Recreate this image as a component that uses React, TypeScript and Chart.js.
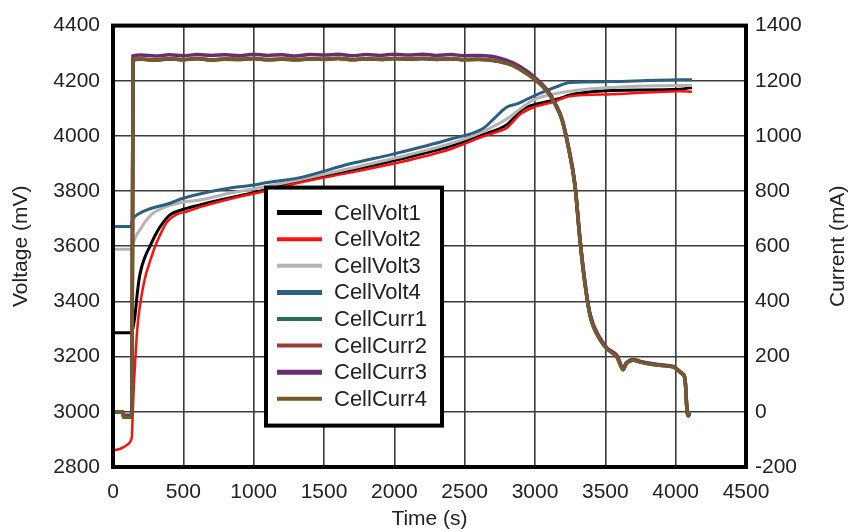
import React, { useEffect, useRef } from "react";
import { Chart, registerables } from "chart.js";

Chart.register(...registerables);

// ---------- Data ----------
const SERIES_NAMES = [
  "CellVolt1",
  "CellVolt2",
  "CellVolt3",
  "CellVolt4",
  "CellCurr1",
  "CellCurr2",
  "CellCurr3",
  "CellCurr4",
];

const volt1Time = [0, 130, 135, 156, 175, 192, 230, 263, 300, 334, 405, 476, 618, 853, 1045, 1329, 1685, 1990, 2396, 2630, 2801, 2870, 2915, 3014, 3156, 3270, 3554, 4031, 4116];
const volt1Vals = [3287, 3287, 3290, 3347, 3440, 3500, 3565, 3600, 3640, 3670, 3714, 3730, 3750, 3778, 3800, 3836, 3875, 3910, 3962, 4005, 4041, 4075, 4098, 4116, 4133, 4151, 4165, 4169, 4176];

const volt2Time = [0, 50, 100, 130, 135, 140, 147, 156, 168, 180, 206, 230, 263, 300, 334, 380, 455, 526, 618, 853, 1045, 1329, 1685, 1990, 2396, 2630, 2737, 2801, 2893, 2986, 3128, 3249, 3554, 4031, 4116];
const volt2Vals = [2860, 2866, 2880, 2900, 2915, 2990, 3080, 3170, 3270, 3340, 3430, 3490, 3545, 3600, 3640, 3685, 3716, 3726, 3742, 3774, 3796, 3831, 3867, 3899, 3952, 3998, 4016, 4030, 4078, 4103, 4123, 4144, 4151, 4162, 4160];

const volt3Time = [0, 130, 135, 150, 171, 192, 230, 263, 300, 384, 498, 618, 853, 1045, 1329, 1685, 1990, 2396, 2630, 2801, 2900, 2986, 3199, 3554, 4031, 4116];
const volt3Vals = [3589, 3589, 3595, 3620, 3645, 3660, 3690, 3710, 3725, 3745, 3760, 3768, 3795, 3812, 3842, 3882, 3918, 3972, 4016, 4062, 4100, 4130, 4158, 4176, 4183, 4183];

const volt4Time = [0, 130, 135, 150, 171, 242, 405, 498, 853, 974, 1095, 1329, 1685, 1990, 2396, 2630, 2701, 2801, 2872, 2943, 3085, 3178, 3249, 3554, 3796, 4031, 4116];
const volt4Vals = [3672, 3672, 3690, 3705, 3714, 3732, 3756, 3774, 3813, 3820, 3831, 3849, 3899, 3934, 3988, 4027, 4059, 4105, 4116, 4133, 4165, 4183, 4194, 4197, 4201, 4204, 4204];

const currTime = [0, 70, 75, 130, 135, 142, 200, 300, 400, 500, 600, 700, 800, 900, 1000, 1100, 1200, 1300, 1400, 1500, 1600, 1700, 1800, 1900, 2000, 2100, 2200, 2300, 2400, 2500, 2600, 2700, 2751, 2844, 2943, 3014, 3085, 3142, 3192, 3235, 3284, 3320, 3355, 3391, 3462, 3512, 3583, 3626, 3650, 3697, 3750, 3817, 3900, 3981, 4045, 4066, 4081, 4090, 4100];
const curr1Vals = [0, 0, -20, -20, 0, 1276, 1278, 1275, 1279, 1277, 1280, 1276, 1278, 1277, 1281, 1277, 1278, 1276, 1279, 1278, 1281, 1277, 1279, 1278, 1280, 1279, 1281, 1278, 1279, 1277, 1277, 1274, 1270, 1256, 1226, 1199, 1164, 1117, 1059, 966, 821, 622, 466, 351, 263, 229, 199, 154, 176, 188, 181, 174, 169, 164, 139, 121, 3, -14, -4];
const curr2Vals = [0, 0, -19, -19, 0, 1277, 1279, 1276, 1280, 1276, 1281, 1275, 1279, 1278, 1280, 1276, 1279, 1277, 1280, 1277, 1281, 1276, 1280, 1277, 1281, 1278, 1280, 1277, 1280, 1276, 1278, 1273, 1269, 1255, 1225, 1198, 1163, 1116, 1058, 964, 820, 621, 465, 350, 262, 228, 198, 153, 175, 187, 180, 173, 168, 163, 138, 120, 2, -15, -5];
const curr3Vals = [0, 0, -12, -12, 0, 1290, 1293, 1290, 1294, 1291, 1295, 1292, 1294, 1291, 1296, 1292, 1294, 1290, 1295, 1293, 1296, 1291, 1295, 1292, 1296, 1293, 1296, 1292, 1295, 1291, 1292, 1288, 1282, 1265, 1235, 1205, 1168, 1120, 1062, 968, 826, 628, 472, 356, 268, 232, 204, 160, 178, 190, 183, 176, 170, 165, 140, 122, 4, -12, -3];
const curr4Vals = [0, 0, -20, -20, 0, 1276, 1279, 1274, 1280, 1276, 1281, 1275, 1279, 1277, 1282, 1276, 1279, 1275, 1280, 1278, 1282, 1276, 1280, 1277, 1281, 1278, 1282, 1277, 1280, 1276, 1278, 1274, 1270, 1255, 1225, 1198, 1163, 1116, 1058, 965, 820, 620, 465, 350, 262, 228, 198, 152, 175, 187, 180, 173, 168, 163, 138, 120, 2, -15, -5];

const X_MIN = 0, X_MAX = 4500, X_STEP = 500;
const V_MIN = 2800, V_MAX = 4400, V_STEP = 200;
const I_MIN = -200, I_MAX = 1400, I_STEP = 200;
const X_TITLE = "Time (s)";
const V_TITLE = "Voltage (mV)";
const I_TITLE = "Current (mA)";

// ---------- Styles ----------
const COLORS = ["#000000", "#ff1010", "#b4b4b4", "#2d5f7e", "#2a6e4a", "#9c3b3b", "#6b2d6f", "#735a2e"];
const LINE_W = [3, 2.5, 3, 3, 3.5, 3.5, 3.5, 3.5];
const LEGEND_W = [5, 4, 4, 5, 4, 4, 5, 4];
const FONT = "'Liberation Sans', Arial, Helvetica, sans-serif";
const TEXT = "#222222";

const toPts = (t: number[], v: number[]) => t.map((x, i) => ({ x, y: v[i] }));
const plainTick = (v: any) => String(v);

const frameLegendPlugin = {
  id: "frameLegend",
  afterDatasetsDraw(chart: any) {
    const { ctx, chartArea: a } = chart;
    ctx.save();
    ctx.strokeStyle = "#000";
    ctx.lineWidth = 4;
    ctx.strokeRect(a.left, a.top, a.right - a.left, a.bottom - a.top);

    // legend box
    const lx = a.left + 153;
    const ly = a.top + 162;
    const lw = 176;
    const lh = 238;
    ctx.fillStyle = "#ffffff";
    ctx.fillRect(lx, ly, lw, lh);
    ctx.strokeRect(lx, ly, lw, lh);
    ctx.font = `22px ${FONT}`;
    ctx.textBaseline = "middle";
    ctx.textAlign = "left";
    SERIES_NAMES.forEach((name, i) => {
      const y = ly + 25 + i * 26.6;
      ctx.beginPath();
      ctx.strokeStyle = COLORS[i];
      ctx.lineWidth = LEGEND_W[i];
      ctx.moveTo(lx + 11, y);
      ctx.lineTo(lx + 56, y);
      ctx.stroke();
      ctx.fillStyle = TEXT;
      ctx.fillText(name, lx + 68, y + 1);
    });

    // right axis title, rotated to read bottom-to-top
    ctx.translate(chart.width - 16, (a.top + a.bottom) / 2);
    ctx.rotate(-Math.PI / 2);
    ctx.textAlign = "center";
    ctx.textBaseline = "middle";
    ctx.font = `21px ${FONT}`;
    ctx.fillStyle = TEXT;
    ctx.fillText(I_TITLE, 0, 0);
    ctx.restore();
  },
};

export default function App() {
  const ref = useRef<HTMLCanvasElement | null>(null);

  useEffect(() => {
    document.body.style.margin = "0";
    const canvas = ref.current;
    if (!canvas) return;
    const volt = [
      toPts(volt1Time, volt1Vals),
      toPts(volt2Time, volt2Vals),
      toPts(volt3Time, volt3Vals),
      toPts(volt4Time, volt4Vals),
    ];
    const curr = [curr1Vals, curr2Vals, curr3Vals, curr4Vals].map((v) => toPts(currTime, v));
    const datasets = SERIES_NAMES.map((name, i) => ({
      label: name,
      data: i < 4 ? volt[i] : curr[i - 4],
      yAxisID: i < 4 ? "yV" : "yI",
      borderColor: COLORS[i],
      backgroundColor: COLORS[i],
      borderWidth: LINE_W[i],
      pointRadius: 0,
      fill: false,
      cubicInterpolationMode: "monotone" as const,
      order: 8 - i,
    }));

    const chart = new Chart(canvas, {
      type: "line",
      data: { datasets },
      plugins: [frameLegendPlugin],
      options: {
        animation: false,
        responsive: false,
        devicePixelRatio: 1,
        layout: { padding: { top: 17, left: 0, right: 0, bottom: 0 } },
        plugins: { legend: { display: false }, tooltip: { enabled: false } },
        scales: {
          x: {
            type: "linear",
            min: X_MIN,
            max: X_MAX,
            afterFit: (s: any) => {
              s.height = 65;
            },
            ticks: { stepSize: X_STEP, padding: 13, color: TEXT, font: { size: 21, family: FONT }, maxRotation: 0, callback: plainTick },
            grid: { color: "#3c3c3c", lineWidth: 1.6, drawTicks: false },
            border: { display: false },
            title: { display: true, text: X_TITLE, color: TEXT, font: { size: 21, family: FONT }, padding: { top: 0, bottom: 0 } },
          },
          yV: {
            type: "linear",
            position: "left",
            min: V_MIN,
            max: V_MAX,
            afterFit: (s: any) => {
              s.width = 113;
            },
            ticks: { stepSize: V_STEP, padding: 13, color: TEXT, font: { size: 21, family: FONT }, callback: plainTick },
            grid: { color: "#3c3c3c", lineWidth: 1.6, drawTicks: false },
            border: { display: false },
            title: { display: true, text: V_TITLE, color: TEXT, font: { size: 21, family: FONT }, padding: { top: 9, bottom: 0 } },
          },
          yI: {
            type: "linear",
            position: "right",
            min: I_MIN,
            max: I_MAX,
            afterFit: (s: any) => {
              s.width = 108;
            },
            ticks: { stepSize: I_STEP, padding: 9, color: TEXT, font: { size: 21, family: FONT }, callback: plainTick },
            grid: { display: false, drawTicks: false },
            border: { display: false },
            title: { display: false },
          },
        },
      },
    });
    return () => chart.destroy();
  }, []);

  return (
    <div style={{ position: "fixed", left: 0, top: 0, width: 854, height: 532, background: "#fff" }}>
      <canvas ref={ref} width={854} height={532} style={{ width: 854, height: 532, display: "block" }} />
    </div>
  );
}
